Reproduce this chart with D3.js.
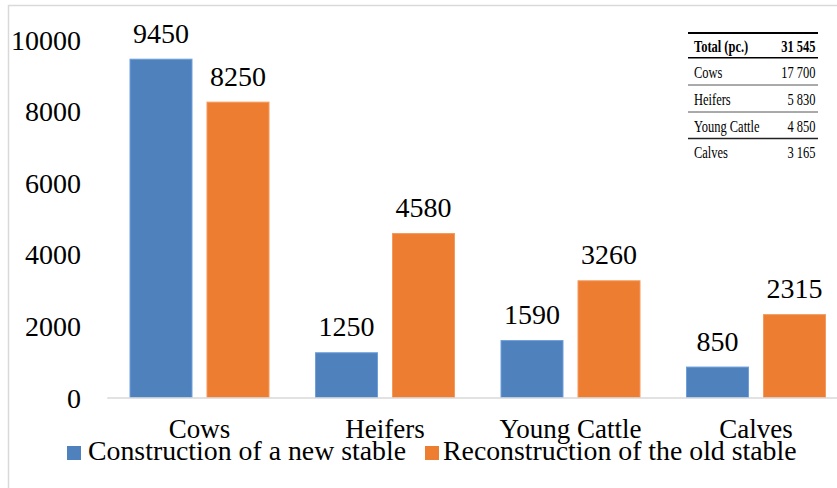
<!DOCTYPE html>
<html>
<head>
<meta charset="utf-8">
<script src="https://cdn.jsdelivr.net/npm/d3@7"></script>
<style>
  body { margin: 0; background: #fff; }
  svg text { font-family: "Liberation Serif", serif; fill: #000; }
</style>
</head>
<body>
<div id="chart"></div>
<script>
// chart data
const categories = ["Cows", "Heifers", "Young Cattle", "Calves"];
const series = ["Construction of a new stable", "Reconstruction of the old stable"];
const newStable = [9450, 1250, 1590, 850];
const oldStable = [8250, 4580, 3260, 2315];
const yTicks = [0, 2000, 4000, 6000, 8000, 10000];

// inset table
const tableHeader = ["Total (pc.)", "31 545"];
const tableRows = ["Cows", "Heifers", "Young Cattle", "Calves"];
const tableValues = ["17 700", "5 830", "4 850", "3 165"];

const colors = ["#4f81bd", "#ed7d31"];
const strokes = ["#6d9fdb", "#f59a5c"];
const serif = '"Liberation Serif", serif';

const W = 837, H = 488;

const svg = d3.select("#chart")
  .append("svg")
    .attr("width", W)
    .attr("height", H)
    .attr("font-family", serif);

// outer frame (cut off at right and bottom)
svg.append("path")
  .attr("d", `M8.5,${H} V5.5 H${W}`)
  .attr("fill", "none")
  .attr("stroke", "#d9d9d9")
  .attr("stroke-width", 1.5);

// scales
const x = d3.scaleBand()
  .domain(categories)
  .range([106.75, 848.75])
  .padding(0);

const xSub = d3.scaleBand()
  .domain(series)
  .range([23.25, 162.25])
  .paddingInner(15 / 77)
  .paddingOuter(0);

const y = d3.scaleLinear()
  .domain([0, 10000])
  .range([397.5, 39.5]);

// y axis (labels only)
const yAxis = svg.append("g")
  .attr("transform", "translate(106,0)")
  .call(d3.axisLeft(y).tickValues(yTicks).tickFormat(d3.format("d")).tickSize(0).tickPadding(25));
yAxis.attr("font-family", serif);
yAxis.select(".domain").remove();
yAxis.selectAll("text")
  .style("font-family", serif)
  .style("font-size", "28px")
  .attr("dy", "0.34em");

// bars
const rows = categories.map((c, i) => ({cat: c, vals: [newStable[i], oldStable[i]]}));

const groups = svg.append("g")
  .selectAll("g")
  .data(rows)
  .join("g")
    .attr("transform", d => `translate(${x(d.cat)},0)`);

groups.selectAll("rect")
  .data(d => d.vals.map((v, j) => ({s: series[j], v: v, j: j})))
  .join("rect")
    .attr("x", d => xSub(d.s))
    .attr("y", d => y(d.v))
    .attr("width", xSub.bandwidth())
    .attr("height", d => y(0) - y(d.v))
    .attr("fill", d => colors[d.j])
    .attr("stroke", d => strokes[d.j])
    .attr("stroke-width", 1);

// value labels
groups.selectAll("text.val")
  .data(d => d.vals.map((v, j) => ({s: series[j], v: v, j: j})))
  .join("text")
    .attr("class", "val")
    .attr("x", d => xSub(d.s) + xSub.bandwidth() / 2)
    .attr("y", d => y(d.v) - 16.5)
    .attr("text-anchor", "middle")
    .style("font-family", serif)
    .style("font-size", "28px")
    .text(d => d.v);

// x axis
const xAxis = svg.append("g")
  .attr("transform", "translate(0,397.5)")
  .call(d3.axisBottom(x).tickSize(0).tickSizeOuter(0).tickPadding(21));
xAxis.attr("font-family", serif);
xAxis.select(".domain")
  .attr("stroke", "#d9d9d9")
  .attr("stroke-width", 1.5);
xAxis.selectAll("text")
  .style("font-family", serif)
  .style("font-size", "27px");

// legend
const legendPos = [{sq: 67, tx: 88}, {sq: 425, tx: 443}];
const legend = svg.append("g")
  .selectAll("g")
  .data(series)
  .join("g");
legend.append("rect")
  .attr("x", (d, i) => legendPos[i].sq)
  .attr("y", 446)
  .attr("width", 14)
  .attr("height", 14)
  .attr("fill", (d, i) => colors[i]);
legend.append("text")
  .attr("x", (d, i) => legendPos[i].tx)
  .attr("y", 460)
  .style("font-family", serif)
  .style("font-size", "27.8px")
  .text(d => d);

// inset table
const tbl = svg.append("g");
const tLeft = 688, tRight = 818, tText = 694, tVal = 815.5;
const lineYs = [33, 57.7, 85, 112, 138.5];
const lineW = [2, 1.5, 1, 1, 1.5];
const lineC = ["#000", "#000", "#555", "#555", "#222"];
lineYs.forEach((ly, i) => {
  tbl.append("line")
    .attr("x1", tLeft).attr("x2", tRight)
    .attr("y1", ly).attr("y2", ly)
    .attr("stroke", lineC[i])
    .attr("stroke-width", lineW[i]);
});
const baseYs = [51.5, 77.5, 104.5, 131.5, 158];
const tCells = [tableHeader].concat(tableRows.map((r, i) => [r, tableValues[i]]));
tCells.forEach((cells, i) => {
  tbl.append("text")
    .attr("transform", `translate(${tText},${baseYs[i]}) scale(0.78,1)`)
    .style("font-family", serif)
    .style("font-size", "16px")
    .style("font-weight", i === 0 ? "bold" : "normal")
    .text(cells[0]);
  tbl.append("text")
    .attr("transform", `translate(${tVal},${baseYs[i]}) scale(0.78,1)`)
    .attr("text-anchor", "end")
    .style("font-family", serif)
    .style("font-size", "16px")
    .style("font-weight", i === 0 ? "bold" : "normal")
    .text(cells[1]);
});
</script>
</body>
</html>
